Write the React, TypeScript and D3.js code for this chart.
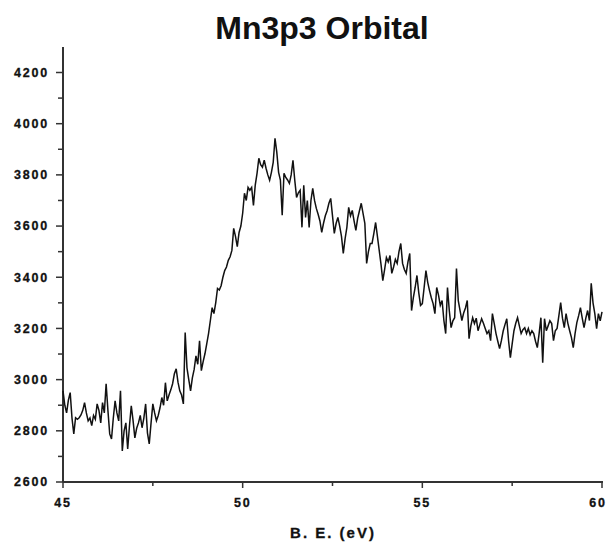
import React from "react";
import * as d3 from "d3";

const title = "Mn3p3 Orbital";
const xLabel = "B. E. (eV)";
const xStart = 45;
const xStep = 0.05;
const xMajorTicks = [45, 50, 55, 60];
const xMinorTicks = [47.5, 52.5, 57.5];
const yMajorTicks = [2600, 2800, 3000, 3200, 3400, 3600, 3800, 4000, 4200];
const yMinorTicks = [2700, 2900, 3100, 3300, 3500, 3700, 3900, 4100];

const counts = [
  2956, 2900, 2870, 2920, 2949, 2850, 2788, 2851, 2845, 2851,
  2862, 2880, 2910, 2870, 2839, 2850, 2820, 2860, 2845, 2905,
  2880, 2831, 2910, 2870, 2984, 2880, 2788, 2768, 2850, 2917,
  2870, 2839, 2956, 2721, 2800, 2831, 2729, 2820, 2898, 2840,
  2772, 2810, 2831, 2860, 2812, 2850, 2905, 2792, 2749, 2830,
  2905, 2870, 2839, 2860, 2890, 2930, 2900, 2988, 2917, 2940,
  2960, 2984, 3023, 3042, 2990, 2956, 2940, 2905, 3184, 3046,
  3000, 2956, 3007, 3040, 3093, 3060, 3152, 3035, 3070, 3101,
  3140, 3180, 3230, 3281, 3258, 3300, 3356, 3350, 3367, 3400,
  3426, 3440, 3466, 3480, 3505, 3591, 3560, 3520, 3575, 3600,
  3650, 3728, 3700, 3751, 3740, 3751, 3681, 3760, 3806, 3865,
  3840, 3830, 3857, 3826, 3800, 3779, 3810, 3849, 3943, 3888,
  3810, 3780, 3642, 3806, 3790, 3780, 3767, 3800, 3857, 3779,
  3712, 3730, 3740, 3595, 3759, 3634, 3700, 3595, 3700, 3747,
  3700, 3669, 3646, 3620, 3575, 3611, 3640, 3660, 3689, 3708,
  3640, 3571, 3610, 3634, 3600, 3560, 3493, 3550, 3595, 3673,
  3640, 3661, 3620, 3583, 3630, 3660, 3689, 3650, 3611, 3454,
  3500, 3532, 3532, 3570, 3614, 3560, 3505, 3450, 3387, 3430,
  3477, 3460, 3485, 3415, 3440, 3470, 3454, 3500, 3532, 3454,
  3430, 3415, 3460, 3493, 3270, 3320, 3360, 3407, 3340, 3290,
  3297, 3360, 3426, 3380, 3348, 3320, 3297, 3258, 3360, 3330,
  3290, 3309, 3231, 3180, 3360, 3270, 3203, 3230, 3242, 3434,
  3309, 3270, 3231, 3260, 3280, 3309, 3160, 3210, 3242, 3219,
  3240, 3191, 3215, 3238, 3220, 3200, 3180, 3191, 3152, 3258,
  3220, 3180, 3150, 3121, 3152, 3190, 3215, 3238, 3152, 3086,
  3140, 3191, 3220, 3242, 3210, 3180, 3195, 3203, 3180, 3200,
  3175, 3191, 3180, 3150, 3125, 3180, 3242, 3066, 3238, 3191,
  3210, 3230, 3219, 3152, 3191, 3200, 3250, 3301, 3240, 3203,
  3258, 3220, 3191, 3164, 3125, 3180, 3223, 3250, 3281, 3240,
  3203, 3240, 3270, 3231, 3376, 3300, 3258, 3199, 3258, 3230,
  3265,
];

export default function App() {
  const W = 607;
  const H = 542;
  const x = d3.scaleLinear().domain([45, 60]).range([63, 602]);
  const y = d3.scaleLinear().domain([2600, 4200]).range([482, 72.5]);
  const data = counts.map((c, i) => ({ e: xStart + i * xStep, c }));
  const line = d3
    .line<{ e: number; c: number }>()
    .x((d) => x(d.e))
    .y((d) => y(d.c));
  const axisColor = "#333";
  const font = "'Liberation Sans', Arial, sans-serif";
  const yTop = y(4300);

  return (
    <svg
      width={W}
      height={H}
      style={{ position: "absolute", left: 0, top: 0, background: "#fff" }}
    >
      <rect x={0} y={0} width={W} height={H} fill="#fff" />
      <text
        x={322}
        y={39}
        textAnchor="middle"
        fontFamily={font}
        fontWeight="bold"
        fontSize={32}
        fill="#111"
      >
        {title}
      </text>

      {/* y axis */}
      <line x1={63} x2={63} y1={yTop} y2={y(2600)} stroke={axisColor} strokeWidth={2} />
      {yMajorTicks.map((t) => (
        <g key={"ym" + t}>
          <line x1={56} x2={63} y1={y(t)} y2={y(t)} stroke={axisColor} strokeWidth={1.5} />
          <text
            x={49}
            y={y(t)}
            dy="0.35em"
            textAnchor="end"
            fontFamily={font}
            fontWeight="bold"
            fontSize={12.5}
            letterSpacing={1.8}
            fill="#111"
            stroke="#111"
            strokeWidth={0.3}
          >
            {t}
          </text>
        </g>
      ))}
      {yMinorTicks.map((t) => (
        <line key={"yn" + t} x1={58} x2={63} y1={y(t)} y2={y(t)} stroke={axisColor} strokeWidth={1.5} />
      ))}

      {/* x axis */}
      <line x1={63} x2={603} y1={y(2600)} y2={y(2600)} stroke={axisColor} strokeWidth={2} />
      {xMajorTicks.map((t, i) => (
        <g key={"xm" + t}>
          <line x1={x(t)} x2={x(t)} y1={y(2600)} y2={y(2600) + 6} stroke={axisColor} strokeWidth={1.5} />
          <text
            x={i === xMajorTicks.length - 1 ? x(t) - 4 : x(t)}
            y={503}
            dy="0.35em"
            textAnchor="middle"
            fontFamily={font}
            fontWeight="bold"
            fontSize={12.5}
            letterSpacing={1.8}
            fill="#111"
            stroke="#111"
            strokeWidth={0.3}
          >
            {t}
          </text>
        </g>
      ))}
      {xMinorTicks.map((t) => (
        <line key={"xn" + t} x1={x(t)} x2={x(t)} y1={y(2600)} y2={y(2600) + 4} stroke={axisColor} strokeWidth={1.5} />
      ))}
      <text
        x={333}
        y={533}
        dy="0.35em"
        textAnchor="middle"
        fontFamily={font}
        fontWeight="bold"
        fontSize={15}
        letterSpacing={2}
        fill="#111"
        stroke="#111"
        strokeWidth={0.3}
      >
        {xLabel}
      </text>

      <path d={line(data) || ""} fill="none" stroke="#111" strokeWidth={1.5} strokeLinejoin="miter" />
    </svg>
  );
}
